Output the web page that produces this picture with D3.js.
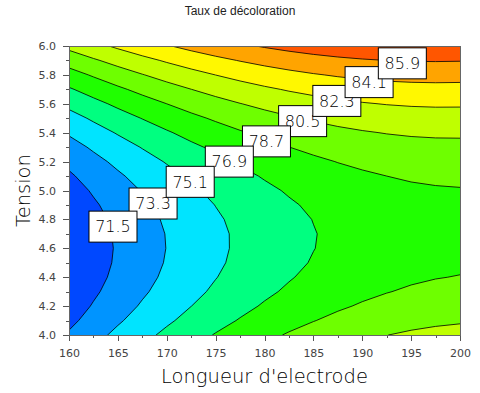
<!DOCTYPE html>
<html>
<head>
<meta charset="utf-8">
<script src="https://cdn.jsdelivr.net/npm/d3@7"></script>
<style>
  body { margin: 0; background: #fff; }
  svg { display: block; }
  .axis path, .axis line { stroke: #555; shape-rendering: crispEdges; }
  .axis text { font-family: "DejaVu Sans", sans-serif; font-size: 11px; fill: #444; }
  .title { font-family: "Liberation Sans", Arial, sans-serif; font-size: 12px; fill: #222; }
  .axis-title { font-family: "DejaVu Sans", sans-serif; font-weight: 200; font-size: 19.5px; fill: #000; }
  .label text { font-family: "DejaVu Sans", sans-serif; font-weight: 200; font-size: 16px; fill: #000; }
</style>
</head>
<body>
<div id="chart"></div>
<script>
////////////////////////////////////////////////////////////////////
////////////////////////////  Data  ////////////////////////////////
// grid: columns = electrode length, rows = tension
const xValues = [160, 162.5, 165, 167.5, 170, 172.5, 175, 177.5, 180, 182.5, 185, 187.5, 190, 192.5, 195, 197.5, 200];
const yValues = [4.0, 4.1, 4.2, 4.3, 4.4, 4.5, 4.6, 4.7, 4.8, 4.9, 5.0, 5.1, 5.2, 5.3, 5.4, 5.5, 5.6, 5.7, 5.8, 5.9, 6.0];
const zValues = [
  [71.70, 72.73, 73.71, 74.62, 75.47, 76.27, 77.00, 77.68, 78.29, 78.85, 79.35, 79.78, 80.16, 80.48, 80.74, 80.94, 81.08],
  [71.10, 72.12, 73.09, 73.99, 74.84, 75.62, 76.35, 77.01, 77.62, 78.16, 78.65, 79.08, 79.45, 79.76, 80.01, 80.20, 80.33],
  [70.61, 71.63, 72.58, 73.48, 74.31, 75.09, 75.80, 76.46, 77.06, 77.59, 78.07, 78.49, 78.85, 79.15, 79.39, 79.57, 79.69],
  [70.24, 71.24, 72.19, 73.07, 73.90, 74.66, 75.37, 76.02, 76.61, 77.13, 77.60, 78.01, 78.36, 78.65, 78.88, 79.05, 79.17],
  [69.97, 70.97, 71.90, 72.78, 73.60, 74.35, 75.05, 75.69, 76.27, 76.79, 77.25, 77.65, 77.99, 78.27, 78.49, 78.65, 78.75],
  [69.82, 70.81, 71.73, 72.60, 73.41, 74.15, 74.84, 75.47, 76.04, 76.55, 77.00, 77.39, 77.72, 77.99, 78.20, 78.36, 78.45],
  [69.78, 70.76, 71.67, 72.53, 73.33, 74.07, 74.75, 75.37, 75.93, 76.43, 76.87, 77.25, 77.57, 77.83, 78.03, 78.18, 78.26],
  [69.85, 70.82, 71.73, 72.58, 73.36, 74.09, 74.76, 75.37, 75.92, 76.41, 76.84, 77.22, 77.53, 77.78, 77.97, 78.11, 78.18],
  [70.04, 70.99, 71.89, 72.73, 73.51, 74.23, 74.89, 75.49, 76.03, 76.51, 76.93, 77.30, 77.60, 77.84, 78.03, 78.15, 78.22],
  [70.33, 71.28, 72.17, 73.00, 73.77, 74.48, 75.13, 75.72, 76.25, 76.72, 77.14, 77.49, 77.78, 78.02, 78.19, 78.31, 78.36],
  [70.74, 71.68, 72.56, 73.38, 74.14, 74.84, 75.48, 76.06, 76.58, 77.05, 77.45, 77.79, 78.08, 78.30, 78.47, 78.57, 78.62],
  [71.26, 72.19, 73.06, 73.87, 74.62, 75.31, 75.94, 76.51, 77.03, 77.48, 77.87, 78.21, 78.48, 78.70, 78.86, 78.95, 78.99],
  [71.89, 72.81, 73.67, 74.47, 75.21, 75.89, 76.52, 77.08, 77.58, 78.03, 78.41, 78.74, 79.00, 79.21, 79.35, 79.44, 79.47],
  [72.63, 73.54, 74.39, 75.18, 75.92, 76.59, 77.20, 77.76, 78.25, 78.69, 79.06, 79.38, 79.63, 79.83, 79.97, 80.04, 80.06],
  [73.49, 74.39, 75.23, 76.01, 76.73, 77.40, 78.00, 78.55, 79.03, 79.46, 79.82, 80.13, 80.37, 80.56, 80.69, 80.76, 80.77],
  [74.45, 75.34, 76.18, 76.95, 77.66, 78.32, 78.91, 79.45, 79.92, 80.34, 80.69, 80.99, 81.23, 81.41, 81.52, 81.58, 81.58],
  [75.53, 76.41, 77.24, 78.00, 78.70, 79.35, 79.93, 80.46, 80.92, 81.33, 81.68, 81.97, 82.19, 82.36, 82.47, 82.52, 82.51],
  [76.72, 77.59, 78.41, 79.16, 79.85, 80.49, 81.07, 81.58, 82.04, 82.44, 82.77, 83.05, 83.27, 83.43, 83.53, 83.57, 83.55],
  [78.02, 78.88, 79.69, 80.43, 81.12, 81.74, 82.31, 82.82, 83.27, 83.65, 83.98, 84.25, 84.46, 84.61, 84.70, 84.73, 84.70],
  [79.43, 80.29, 81.08, 81.82, 82.49, 83.11, 83.67, 84.17, 84.60, 84.98, 85.30, 85.56, 85.76, 85.90, 85.98, 86.00, 85.97],
  [80.96, 81.80, 82.59, 83.32, 83.98, 84.59, 85.14, 85.63, 86.05, 86.42, 86.73, 86.98, 87.17, 87.31, 87.38, 87.39, 87.34]
];

const levels = [71.5, 73.3, 75.1, 76.9, 78.7, 80.5, 82.3, 84.1, 85.9];
const bandColors = ["#0048ff", "#0094ff", "#00e4ff", "#00ff80", "#20ff00", "#6eff00", "#bfff00", "#fff800", "#ffa400", "#ff5600"];

// where each level's tag sits on its line
const labelX = [164.5, 168.6, 172.4, 176.4, 180.2, 183.9, 187.4, 190.7, 194.1];
const labelY = [4.75, 4.91, 5.06, 5.20, 5.34, 5.48, 5.62, 5.75, 5.88];
const labelOrder = [5, 4, 3, 1, 2, 0, 6, 7, 8];

const xTicks = [160, 165, 170, 175, 180, 185, 190, 195, 200];
const xMinorTicks = [162.5, 167.5, 172.5, 177.5, 182.5, 187.5, 192.5, 197.5];
const yTicks = [4.0, 4.2, 4.4, 4.6, 4.8, 5.0, 5.2, 5.4, 5.6, 5.8, 6.0];
const yMinorTicks = [4.1, 4.3, 4.5, 4.7, 4.9, 5.1, 5.3, 5.5, 5.7, 5.9];

////////////////////////////////////////////////////////////////////
////////////////////////////  Init  ////////////////////////////////
const width = 480, height = 393;
const margin = { top: 46, right: 20, bottom: 58, left: 69 };

const svg = d3.select("#chart").append("svg")
  .attr("width", width)
  .attr("height", height);

const xScale = d3.scaleLinear().domain([160, 200]).range([margin.left, width - margin.right]);
const yScale = d3.scaleLinear().domain([4, 6]).range([height - margin.bottom, margin.top]);

svg.append("defs").append("clipPath").attr("id", "plot-clip")
  .append("rect")
  .attr("x", margin.left)
  .attr("y", margin.top)
  .attr("width", width - margin.left - margin.right)
  .attr("height", height - margin.top - margin.bottom);

////////////////////////////////////////////////////////////////////
////////////////////////////  Contours  ////////////////////////////
const nx = xValues.length, ny = yValues.length;
const stepX = xValues[1] - xValues[0], stepY = yValues[1] - yValues[0];

const contours = d3.contours()
  .size([nx, ny])
  .thresholds(levels)(zValues.flat());

// contour grid coords -> data -> pixels (grid values sit at cell centres)
const proj = d3.geoTransform({
  point(c, r) {
    this.stream.point(
      xScale(xValues[0] + (c - 0.5) * stepX),
      yScale(yValues[0] + (r - 0.5) * stepY)
    );
  }
});
const path = d3.geoPath(proj);

const plot = svg.append("g").attr("clip-path", "url(#plot-clip)");

plot.append("rect")
  .attr("x", margin.left)
  .attr("y", margin.top)
  .attr("width", width - margin.left - margin.right)
  .attr("height", height - margin.top - margin.bottom)
  .attr("fill", bandColors[0]);

plot.selectAll(".band")
  .data(contours)
  .enter()
  .append("path")
  .attr("class", "band")
  .attr("d", path)
  .attr("fill", (d, i) => bandColors[i + 1]);

plot.selectAll(".iso")
  .data(contours)
  .enter()
  .append("path")
  .attr("class", "iso")
  .attr("d", path)
  .attr("fill", "none")
  .attr("stroke", "#000")
  .attr("stroke-width", 0.8);

////////////////////////////////////////////////////////////////////
////////////////////////////  Axes  ////////////////////////////////
const xAxisG = svg.append("g")
  .attr("class", "axis")
  .attr("transform", `translate(0,${height - margin.bottom})`);
xAxisG.call(d3.axisBottom(xScale).tickValues(xTicks).tickSize(6).tickPadding(8).tickFormat(d3.format("d")));
xAxisG.append("g").call(d3.axisBottom(xScale).tickValues(xMinorTicks).tickSize(3).tickFormat(""))
  .select(".domain").remove();

const yAxisG = svg.append("g")
  .attr("class", "axis")
  .attr("transform", `translate(${margin.left},0)`);
yAxisG.call(d3.axisLeft(yScale).tickValues(yTicks).tickSize(6).tickPadding(7).tickFormat(d3.format(".1f")));
yAxisG.append("g").call(d3.axisLeft(yScale).tickValues(yMinorTicks).tickSize(3).tickFormat(""))
  .select(".domain").remove();

// frame
svg.append("rect")
  .attr("x", margin.left)
  .attr("y", margin.top)
  .attr("width", width - margin.left - margin.right)
  .attr("height", height - margin.top - margin.bottom)
  .attr("fill", "none")
  .attr("stroke", "#666")
  .attr("shape-rendering", "crispEdges");

////////////////////////////////////////////////////////////////////
////////////////////////////  Labels  //////////////////////////////
const labels = svg.selectAll(".label")
  .data(labelOrder)
  .enter()
  .append("g")
  .attr("class", "label")
  .attr("transform", (i) => `translate(${xScale(labelX[i])},${yScale(labelY[i])})`);

labels.append("rect")
  .attr("x", -24)
  .attr("y", -15.5)
  .attr("width", 48)
  .attr("height", 31)
  .attr("fill", "#fff")
  .attr("stroke", "#000")
  .attr("stroke-width", 1);

labels.append("text")
  .attr("text-anchor", "middle")
  .attr("dy", "0.36em")
  .text((i) => levels[i].toFixed(1));

////////////////////////////////////////////////////////////////////
////////////////////////////  Titles  //////////////////////////////
svg.append("text")
  .attr("class", "title")
  .attr("x", width / 2)
  .attr("y", 15)
  .attr("text-anchor", "middle")
  .text("Taux de décoloration");

svg.append("text")
  .attr("class", "axis-title")
  .attr("x", (margin.left + width - margin.right) / 2)
  .attr("y", 383)
  .attr("text-anchor", "middle")
  .text("Longueur d'electrode");

svg.append("text")
  .attr("class", "axis-title")
  .attr("transform", `translate(30,${(margin.top + height - margin.bottom) / 2}) rotate(-90)`)
  .attr("text-anchor", "middle")
  .text("Tension");
</script>
</body>
</html>
